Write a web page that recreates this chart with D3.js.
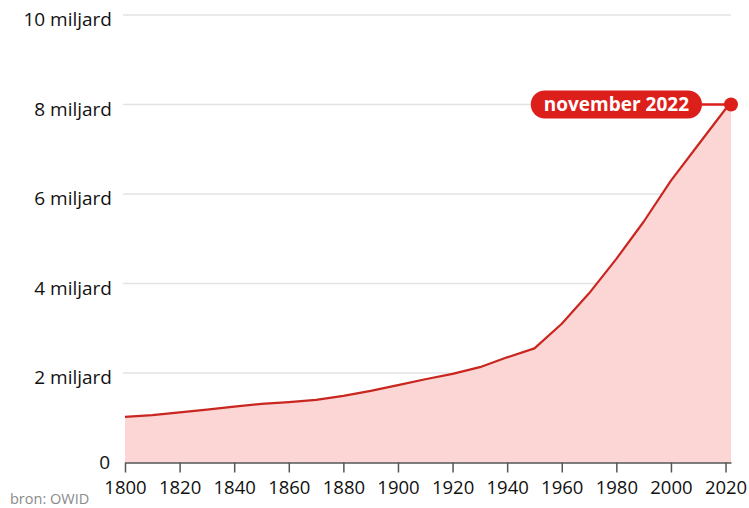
<!DOCTYPE html>
<html>
<head>
<meta charset="utf-8">
<script src="https://cdn.jsdelivr.net/npm/d3@7"></script>
<style>
  html, body { margin: 0; padding: 0; background: #fff; }
  svg { display: block; font-family: "Open Sans", sans-serif; }
</style>
</head>
<body>
<svg id="chart" width="749" height="508"></svg>
<script>
const years = [1800, 1810, 1820, 1830, 1840, 1850, 1860, 1870, 1880, 1890, 1900, 1910, 1920, 1930, 1940, 1950, 1960, 1970, 1980, 1990, 2000, 2010, 2020, 2022];
const population = [1.02, 1.06, 1.12, 1.18, 1.25, 1.31, 1.35, 1.40, 1.49, 1.60, 1.73, 1.86, 1.98, 2.13, 2.35, 2.55, 3.10, 3.78, 4.55, 5.38, 6.30, 7.10, 7.90, 8.00];
const xTicks = [1800, 1820, 1840, 1860, 1880, 1900, 1920, 1940, 1960, 1980, 2000, 2020];
const yTicks = [0, 2, 4, 6, 8, 10];
const yTickLabels = ["0", "2 miljard", "4 miljard", "6 miljard", "8 miljard", "10 miljard"];
const annotationLabel = "november 2022";
const sourceLabel = "bron: OWID";

const data = years.map((y, i) => ({ year: y, value: population[i] }));

const svg = d3.select("#chart");
const x = d3.scaleLinear().domain([1800, 2022]).range([125, 731]);
const y = d3.scaleLinear().domain([0, 10]).range([462.5, 15]);

// gridlines
svg.append("g").selectAll("line")
  .data(yTicks.filter(d => d > 0))
  .join("line")
  .attr("x1", 123).attr("x2", 731)
  .attr("y1", d => y(d)).attr("y2", d => y(d))
  .attr("stroke", "#e3e3e3").attr("stroke-width", 1.5);

// y labels
svg.append("g").selectAll("text")
  .data(yTicks)
  .join("text")
  .attr("x", d => d === 0 ? 110 : 112)
  .attr("y", d => d === 0 ? y(d) + 6 : y(d) + 11)
  .attr("text-anchor", "end")
  .attr("font-size", 19)
  .attr("fill", "#111")
  .text((d, i) => yTickLabels[i]);

// area
const area = d3.area().x(d => x(d.year)).y0(y(0)).y1(d => y(d.value)).curve(d3.curveLinear);
svg.append("path").datum(data).attr("d", area).attr("fill", "#fcd5d5");

const line = d3.line().x(d => x(d.year)).y(d => y(d.value)).curve(d3.curveLinear);
svg.append("path").datum(data).attr("d", line)
  .attr("fill", "none").attr("stroke", "#c9261f").attr("stroke-width", 2.2)
  .attr("stroke-linejoin", "round");

// x axis
const xAxis = d3.axisBottom(x).tickValues(xTicks).tickFormat(d3.format("d")).tickSize(10).tickSizeOuter(0);
const gx = svg.append("g").attr("transform", `translate(0,${y(0)})`).call(xAxis);
gx.select(".domain").attr("stroke", "#555").attr("stroke-width", 1.5);
gx.selectAll(".tick line").attr("stroke", "#555").attr("stroke-width", 1.5);
gx.selectAll(".tick text").attr("font-size", 18.5).attr("fill", "#111").attr("font-family", "Open Sans, sans-serif").attr("dy", "1.0em");

// annotation
const last = data[data.length - 1];
const ax = x(last.year), ay = y(last.value);
const pillRight = ax - 29;
const ann = svg.append("g");
ann.append("line").attr("x1", pillRight).attr("x2", ax).attr("y1", ay).attr("y2", ay)
  .attr("stroke", "#dd1f1b").attr("stroke-width", 2.5);
const pill = ann.append("rect").attr("fill", "#dd1f1b");
const label = ann.append("text")
  .attr("font-size", 19).attr("font-weight", 700).attr("fill", "#fff")
  .attr("text-anchor", "middle").attr("y", ay + 6.5).text(annotationLabel);
const tw = label.node().getComputedTextLength();
const pw = tw + 26;
pill.attr("x", pillRight - pw).attr("y", ay - 14).attr("width", pw).attr("height", 28).attr("rx", 14);
label.attr("x", pillRight - pw / 2);
ann.append("circle").attr("cx", ax).attr("cy", ay).attr("r", 7).attr("fill", "#dd1f1b");

// source
svg.append("text").attr("x", 10).attr("y", 504).attr("font-size", 14.5).attr("fill", "#8a8a8a").text(sourceLabel);
</script>
</body>
</html>
